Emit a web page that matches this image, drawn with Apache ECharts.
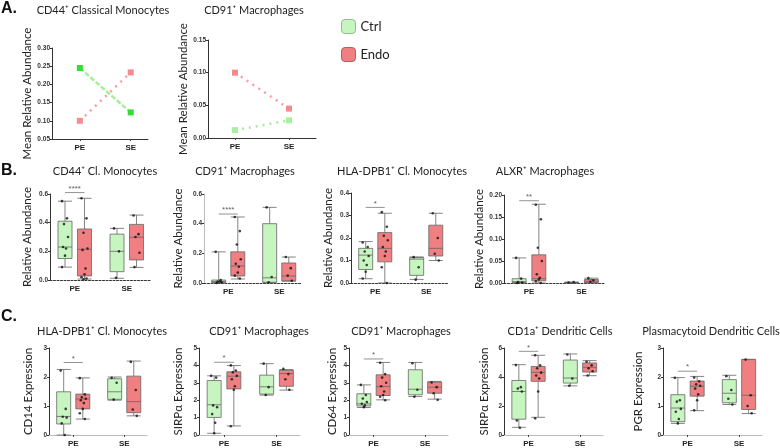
<!DOCTYPE html>
<html>
<head>
<meta charset="utf-8">
<script src="https://cdn.jsdelivr.net/npm/echarts@6/dist/echarts.min.js"></script>
<style>
    body { margin: 0; background: #fff; }
    #main { width: 780px; height: 448px; }
</style>
</head>
<body>
<div id="main"></div>
<script>
    // groups on the x axis
    var groups = ['PE', 'SE'];

    // A. mean relative abundance (PE, SE)
    var a1Ctrl = [0.245, 0.123];
    var a1Endo = [0.100, 0.233];
    var a2Ctrl = [0.012, 0.027];
    var a2Endo = [0.100, 0.045];

    // B. / C. boxes [min, Q1, median, Q3, max] for PE and SE
    var b1Ctrl = [[0.09, 0.15, 0.23, 0.41, 0.55], [0.012, 0.058, 0.20, 0.32, 0.36]];
    var b1Endo = [[0.007, 0.028, 0.214, 0.356, 0.57], [0.088, 0.14, 0.298, 0.388, 0.453]];
    var b2Ctrl = [[0.0, 0.002, 0.01, 0.02, 0.21], [0.002, 0.005, 0.035, 0.40, 0.51]];
    var b2Endo = [[0.027, 0.047, 0.115, 0.21, 0.445], [0.012, 0.015, 0.047, 0.135, 0.175]];
    var b3Ctrl = [[0.019, 0.06, 0.124, 0.154, 0.184], [0.016, 0.034, 0.106, 0.113, 0.116]];
    var b3Endo = [[0.0, 0.094, 0.154, 0.224, 0.31], [0.10, 0.12, 0.154, 0.257, 0.31]];
    var b4Ctrl = [[0.0, 0.001, 0.003, 0.0098, 0.057], [0.0, 0.0005, 0.001, 0.0015, 0.002]];
    var b4Endo = [[0.0, 0.005, 0.0098, 0.064, 0.179], [0.0, 0.001, 0.004, 0.008, 0.011]];
    var c1Ctrl = [[0.0, 0.38, 0.64, 1.49, 2.26], [1.2, 1.23, 1.49, 1.94, 2.0]];
    var c1Endo = [[0.55, 0.9, 1.24, 1.41, 1.97], [0.66, 0.77, 1.15, 2.03, 2.55]];
    var c2Ctrl = [[0.1, 1.01, 1.74, 3.13, 3.4], [2.29, 2.35, 2.77, 3.44, 4.1]];
    var c2Endo = [[0.52, 2.65, 3.38, 3.63, 3.99], [2.58, 2.8, 3.53, 3.72, 3.76]];
    var c3Ctrl = [[1.58, 1.67, 1.79, 2.37, 2.88], [2.21, 2.31, 2.63, 3.75, 4.17]];
    var c3Endo = [[2.02, 2.27, 2.79, 3.46, 4.17], [2.06, 2.4, 2.75, 3.04, 3.08]];
    var c4Ctrl = [[0.53, 1.09, 3.0, 3.76, 4.85], [3.39, 3.58, 3.93, 5.17, 5.59]];
    var c4Endo = [[1.22, 3.7, 4.32, 4.73, 5.5], [4.09, 4.34, 4.67, 4.97, 5.13]];
    var c5Ctrl = [[0.4, 0.46, 0.93, 1.39, 1.98], [1.05, 1.11, 1.44, 1.91, 2.06]];
    var c5Endo = [[0.84, 1.34, 1.68, 1.86, 2.02], [0.74, 0.88, 1.37, 2.6, 2.61]];

    // individual samples (PE, SE)
    var b1CtrlPts = [[0.55, 0.43, 0.39, 0.30, 0.23, 0.22, 0.17, 0.09], [0.36, 0.20, 0.015]];
    var b1EndoPts = [[0.57, 0.43, 0.33, 0.22, 0.21, 0.08, 0.04, 0.02, 0.01, 0.005], [0.45, 0.32, 0.30, 0.19, 0.09]];
    var b2CtrlPts = [[0.21, 0.02, 0.01, 0.005, 0.0, 0.01], [0.51, 0.04, 0.005]];
    var b2EndoPts = [[0.445, 0.35, 0.26, 0.16, 0.13, 0.11, 0.07, 0.05, 0.03], [0.175, 0.10, 0.05, 0.015]];
    var b3CtrlPts = [[0.18, 0.16, 0.14, 0.12, 0.10, 0.08, 0.05, 0.02], [0.115, 0.07, 0.015]];
    var b3EndoPts = [[0.315, 0.25, 0.21, 0.19, 0.16, 0.14, 0.12, 0.07, 0.0], [0.31, 0.2, 0.13, 0.10]];
    var b4CtrlPts = [[0.057, 0.01, 0.002, 0.001, 0.0], [0.001, 0.002]];
    var b4EndoPts = [[0.178, 0.145, 0.08, 0.05, 0.02, 0.012, 0.008, 0.004, 0.0], [0.011, 0.006, 0.003]];
    var c1CtrlPts = [[2.22, 0.9, 0.63, 0.6, 0.4, 0.0], [1.97, 1.8, 1.22]];
    var c1EndoPts = [[1.96, 1.4, 1.3, 1.25, 1.2, 1.1, 0.9, 0.75, 0.55], [2.52, 1.55, 0.88, 0.66]];
    var c2CtrlPts = [[3.4, 3.3, 1.7, 1.6, 1.2, 0.7, 0.1], [4.1, 2.75, 2.3]];
    var c2EndoPts = [[4.0, 3.7, 3.6, 3.4, 3.2, 2.8, 2.6, 0.5], [3.8, 3.5, 3.2, 2.6]];
    var c3CtrlPts = [[2.88, 2.3, 2.1, 1.9, 1.8, 1.7, 1.6], [4.12, 2.6, 2.2]];
    var c3EndoPts = [[4.15, 3.5, 3.3, 3.0, 2.8, 2.5, 2.3, 2.2, 2.0], [3.02, 2.75, 2.4, 2.02]];
    var c4CtrlPts = [[4.82, 3.3, 3.2, 3.0, 1.0, 0.5], [5.55, 3.9, 3.4]];
    var c4EndoPts = [[5.5, 4.8, 4.6, 4.3, 4.1, 3.9, 3.0, 1.15], [5.05, 4.8, 4.6, 4.4, 4.1]];
    var c5CtrlPts = [[1.97, 1.2, 1.15, 0.9, 0.8, 0.55, 0.4], [2.03, 1.55, 1.25, 1.05]];
    var c5EndoPts = [[1.98, 1.85, 1.75, 1.7, 1.6, 1.4, 1.2, 0.85], [2.6, 1.37, 1.0, 0.75]];

    var ctrlColor = '#c6f5c0';
    var endoColor = '#f07f82';
    var font = 'Lato';
    var jitter = [-3, 2, -1, 3, -2, 1, 0, -3, 2, -1];

    // where things sit inside each box panel (x axis runs 0..1)
    var labelPos = [0.2475, 0.7675];
    var boxPos = [[0.15, 0.345], [0.67, 0.865]];

    var boxPanels = [
        {title: 'CD44⁺ Cl. Monocytes', yName: 'Relative Abundance', max: 0.6, step: 0.2, dec: 1, ctrl: b1Ctrl, endo: b1Endo, ctrlPts: b1CtrlPts, endoPts: b1EndoPts, sig: 0.61, stars: '****',
         rect: [50, 194, 100, 86], titleX: 105, titleY: 166, nameGap: 17, dashed: true},
        {title: 'CD91⁺ Macrophages', yName: 'Relative Abundance', max: 0.6, step: 0.2, dec: 1, ctrl: b2Ctrl, endo: b2Endo, ctrlPts: b2CtrlPts, endoPts: b2EndoPts, sig: 0.465, stars: '****',
         rect: [204, 194, 98, 89], titleX: 245, titleY: 166, nameGap: 20, dashed: true, lightAxis: true},
        {title: 'HLA-DPB1⁺ Cl. Monocytes', yName: 'Relative Abundance', max: 0.4, step: 0.1, dec: 1, ctrl: b3Ctrl, endo: b3Endo, ctrlPts: b3CtrlPts, endoPts: b3EndoPts, sig: 0.336, stars: '*',
         rect: [351, 193, 98, 90], titleX: 402, titleY: 166, nameGap: 17, dashed: true},
        {title: 'ALXR⁺ Macrophages', yName: 'Relative Abundance', max: 0.2, step: 0.05, dec: 2, ctrl: b4Ctrl, endo: b4Endo, ctrlPts: b4CtrlPts, endoPts: b4EndoPts, sig: 0.187, stars: '**',
         rect: [504, 195, 101, 88], titleX: 545, titleY: 166, nameGap: 15, dashed: true},
        {title: 'HLA-DPB1⁺ Cl. Monocytes', yName: 'CD14 Expression', max: 3, step: 1, dec: 0, ctrl: c1Ctrl, endo: c1Endo, ctrlPts: c1CtrlPts, endoPts: c1EndoPts, sig: 2.5, stars: '*',
         rect: [49, 348, 98, 87], titleX: 102, titleY: 326, nameGap: 15},
        {title: 'CD91⁺ Macrophages', yName: 'SIRPα Expression', max: 5, step: 1, dec: 0, ctrl: c2Ctrl, endo: c2Endo, ctrlPts: c2CtrlPts, endoPts: c2EndoPts, sig: 4.18, stars: '*',
         rect: [199, 348, 101, 88], titleX: 259, titleY: 326, nameGap: 15},
        {title: 'CD91⁺ Macrophages', yName: 'CD64 Expression', max: 5, step: 1, dec: 0, ctrl: c3Ctrl, endo: c3Endo, ctrlPts: c3CtrlPts, endoPts: c3EndoPts, sig: 4.37, stars: '*',
         rect: [349, 348, 99, 87], titleX: 401, titleY: 326, nameGap: 11},
        {title: 'CD1a⁺ Dendritic Cells', yName: 'SIRPα Expression', max: 6, step: 2, dec: 0, ctrl: c4Ctrl, endo: c4Endo, ctrlPts: c4CtrlPts, endoPts: c4EndoPts, sig: 5.77, stars: '*',
         rect: [504, 348, 99, 87], titleX: 560, titleY: 326, nameGap: 14},
        {title: 'Plasmacytoid Dendritic Cells', yName: 'PGR Expression', max: 3, step: 1, dec: 0, ctrl: c5Ctrl, endo: c5Endo, ctrlPts: c5CtrlPts, endoPts: c5EndoPts, sig: 2.2, stars: '*',
         rect: [663, 348, 99, 87], titleX: 711, titleY: 326, nameGap: 19}
    ];

    var linePanels = [
        {title: 'CD44⁺ Classical Monocytes', min: 0.05, max: 0.30, step: 0.05, ctrl: a1Ctrl, endo: a1Endo, xPos: [0.29, 0.82],
         rect: [52, 48, 96, 91], titleX: 103, titleY: 5, nameGap: 18, ctrlMark: '#33dd33', ctrlDash: [5, 2]},
        {title: 'CD91⁺ Macrophages', min: 0, max: 0.15, step: 0.05, ctrl: a2Ctrl, endo: a2Endo, xPos: [0.25, 0.75],
         rect: [208, 40, 108, 98], titleX: 254, titleY: 5, nameGap: 13, ctrlMark: '#a6f0a0', ctrlDash: [2, 5]}
    ];

    var grid = [], xAxis = [], yAxis = [], series = [];
    var letterStyle = {fontSize: 16, fontWeight: 'bold', fontFamily: 'Liberation Sans', color: '#111'};
    var title = [
        {text: 'A.', left: 1, top: 1, padding: 0, textStyle: letterStyle},
        {text: 'B.', left: 1, top: 163, padding: 0, textStyle: letterStyle},
        {text: 'C.', left: 1, top: 309, padding: 0, textStyle: letterStyle}
    ];

    function addAxes(p, xPos, opts) {
        var i = grid.length;
        grid.push({left: p.rect[0], top: p.rect[1], width: p.rect[2], height: p.rect[3]});
        title.push({text: p.title, left: p.titleX, top: p.titleY, textAlign: 'center', padding: 0,
            textStyle: {fontSize: 11, fontWeight: 'normal', fontFamily: font, color: '#222'}});
        xAxis.push({
            gridIndex: i, type: 'value', min: 0, max: 1, splitLine: {show: false},
            axisLine: {lineStyle: opts.xLine},
            axisTick: {show: opts.xTick, customValues: xPos, length: 2, lineStyle: {color: '#444'}},
            axisLabel: {customValues: xPos, margin: 5, fontSize: 8, fontWeight: 'bold', fontFamily: 'Liberation Sans', color: '#222',
                formatter: function (v) { return v < 0.5 ? groups[0] : groups[1]; }}
        });
        yAxis.push({
            gridIndex: i, type: 'value', min: p.min || 0, max: p.max, interval: p.step,
            name: opts.yName, nameLocation: 'middle', nameGap: p.nameGap,
            nameTextStyle: {fontSize: 11.5, fontFamily: font, color: '#222'},
            splitLine: {show: false},
            axisLine: {show: true, lineStyle: {color: opts.yColor || '#333', width: 1}},
            axisTick: {show: true, length: 2, lineStyle: {color: '#333'}},
            axisLabel: {margin: 2, fontSize: 6.5, fontWeight: 'bold', fontFamily: 'Liberation Sans', color: '#333',
                formatter: function (v) { return v.toFixed(p.dec); }}
        });
        return i;
    }

    // A. line charts
    linePanels.forEach(function (p) {
        p.dec = 2;
        var i = addAxes(p, p.xPos, {xLine: {color: '#333'}, xTick: true, yName: 'Mean Relative Abundance'});
        series.push({
            name: 'Ctrl', type: 'line', xAxisIndex: i, yAxisIndex: i, symbol: 'rect', symbolSize: 6,
            data: p.ctrl.map(function (v, k) { return [p.xPos[k], v]; }),
            lineStyle: {color: '#a6ee9c', width: 2.5, type: p.ctrlDash},
            itemStyle: {color: p.ctrlMark}
        });
        series.push({
            name: 'Endo', type: 'line', xAxisIndex: i, yAxisIndex: i, symbol: 'rect', symbolSize: 6,
            data: p.endo.map(function (v, k) { return [p.xPos[k], v]; }),
            lineStyle: {color: '#f79c9c', width: 2.5, type: [2, 5]},
            itemStyle: {color: '#f68a8c'}
        });
    });

    // B. / C. box plots
    boxPanels.forEach(function (p) {
        var i = addAxes(p, labelPos, {
            xLine: p.dashed ? {color: '#333', type: [2, 1.5]} : {color: '#bbb', width: 1.2},
            xTick: !p.dashed, yName: p.yName, yColor: p.lightAxis ? '#bbb' : '#333'
        });
        var boxes = [];
        var pts = [];
        [0, 1].forEach(function (g) {
            boxes.push({value: [boxPos[g][0]].concat(p.ctrl[g]), itemStyle: {color: ctrlColor}});
            boxes.push({value: [boxPos[g][1]].concat(p.endo[g]), itemStyle: {color: endoColor}});
            p.ctrlPts[g].forEach(function (v, k) { pts.push([boxPos[g][0] + jitter[k] / p.rect[2], v]); });
            p.endoPts[g].forEach(function (v, k) { pts.push([boxPos[g][1] + jitter[k] / p.rect[2], v]); });
        });
        series.push({
            type: 'boxplot', xAxisIndex: i, yAxisIndex: i, boxWidth: [14, 14], data: boxes, silent: true,
            itemStyle: {borderColor: '#666', borderWidth: 0.8}
        });
        series.push({
            type: 'scatter', xAxisIndex: i, yAxisIndex: i, symbolSize: 2.6, data: pts, silent: true, clip: false,
            itemStyle: {color: '#111'}
        });
        // significance bar between Ctrl and Endo at PE
        series.push({
            type: 'line', xAxisIndex: i, yAxisIndex: i, symbol: 'none', silent: true, clip: false,
            data: [[boxPos[0][0], p.sig], [boxPos[0][1], p.sig]],
            lineStyle: {color: '#777', width: 0.8}
        });
        series.push({
            type: 'scatter', xAxisIndex: i, yAxisIndex: i, symbolSize: 0, silent: true, clip: false,
            data: [[(boxPos[0][0] + boxPos[0][1]) / 2, p.sig]],
            label: {show: true, position: 'top', distance: 0, formatter: p.stars, fontSize: 8, color: '#333'}
        });
    });

    var chart = echarts.init(document.getElementById('main'));
    chart.setOption({
        animation: false,
        backgroundColor: '#fff',
        title: title,
        legend: {
            left: 341, top: 19, padding: 0, orient: 'vertical', itemWidth: 14, itemHeight: 14, itemGap: 13,
            textStyle: {fontSize: 13, fontFamily: font, color: '#222'},
            data: [
                {name: 'Ctrl', icon: 'roundRect', itemStyle: {color: ctrlColor, borderColor: '#8fbf8a', borderWidth: 1}},
                {name: 'Endo', icon: 'roundRect', itemStyle: {color: endoColor, borderColor: '#b85c60', borderWidth: 1}}
            ]
        },
        grid: grid,
        xAxis: xAxis,
        yAxis: yAxis,
        series: series
    });
</script>
</body>
</html>
